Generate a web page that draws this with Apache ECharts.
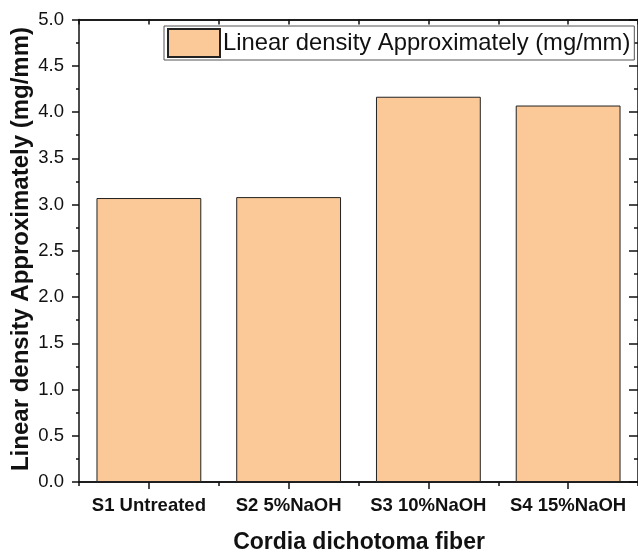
<!DOCTYPE html>
<html>
<head>
<meta charset="utf-8">
<script src="https://cdn.jsdelivr.net/npm/echarts@6/dist/echarts.min.js"></script>
<style>html,body{margin:0;padding:0;background:#fff;}#c{width:638px;height:554px;}</style>
</head>
<body>
<div id="c"></div>
<script>
const categories = ['S1 Untreated', 'S2 5%NaOH', 'S3 10%NaOH', 'S4 15%NaOH'];
const values = [3.07, 3.08, 4.165, 4.07];
const seriesName = 'Linear density Approximately (mg/mm)';
const xTitle = 'Cordia dichotoma fiber';
const yTitle = 'Linear density Approximately (mg/mm)';
const yMin = 0, yMax = 5, yStep = 0.5;

const FONT = '"Liberation Sans", Arial, sans-serif';
const chart = echarts.init(document.getElementById('c'), null, {renderer: 'canvas'});
const lineStyle = {color: '#111', width: 1.5};
function catAxis(extra) {
  return Object.assign({
    type: 'category', data: categories, boundaryGap: true,
    axisLine: {show: true, lineStyle: lineStyle},
    axisLabel: {show: false},
    splitLine: {show: false}
  }, extra);
}
const option = {
  animation: false,
  backgroundColor: '#fff',
  grid: {left: 79, top: 19.5, width: 560, height: 462.5, containLabel: false},
  legend: {
    left: 164, top: 26,
    padding: [2, 4, 2, 3],
    backgroundColor: '#fff',
    borderColor: '#555', borderWidth: 1, borderRadius: 0,
    itemWidth: 52, itemHeight: 28, itemGap: 5,
    icon: 'rect',
    textStyle: {fontFamily: FONT, fontSize: 23.8, color: '#111', padding: [0, 0, 0, -2]},
    data: [seriesName]
  },
  xAxis: [
    catAxis({position: 'bottom',
      axisTick: {show: true, alignWithLabel: true, length: 7, inside: false, lineStyle: lineStyle},
      axisLabel: {show: true, interval: 0, margin: 14, fontFamily: FONT, fontSize: 18.5, fontWeight: 'bold', color: '#111'}}),
    catAxis({position: 'bottom',
      axisTick: {show: true, alignWithLabel: false, length: 4, inside: false, lineStyle: lineStyle}}),
    catAxis({position: 'top',
      axisTick: {show: true, alignWithLabel: true, length: 5, inside: true, lineStyle: lineStyle}}),
    catAxis({position: 'top',
      axisTick: {show: true, alignWithLabel: false, length: 5, inside: true, lineStyle: lineStyle}})
  ],
  yAxis: [
    {type: 'value', position: 'left', min: yMin, max: yMax, interval: yStep,
      axisLine: {show: true, lineStyle: lineStyle},
      axisTick: {show: true, length: 7, inside: false, lineStyle: lineStyle},
      minorTick: {show: true, splitNumber: 2, length: 3, lineStyle: lineStyle},
      splitLine: {show: false},
      axisLabel: {show: true, margin: 15, fontFamily: FONT, fontSize: 18.5, color: '#111',
        formatter: v => v.toFixed(1)}},
    {type: 'value', position: 'right', min: yMin, max: yMax, interval: yStep,
      axisLine: {show: true, lineStyle: lineStyle},
      axisTick: {show: true, length: 9, inside: true, lineStyle: lineStyle},
      minorTick: {show: true, splitNumber: 2, length: 4, lineStyle: lineStyle},
      splitLine: {show: false},
      axisLabel: {show: false}}
  ],
  series: [{
    name: seriesName, type: 'bar', xAxisIndex: 0, yAxisIndex: 0,
    data: values, barWidth: '75%',
    itemStyle: {color: '#FBC898', borderColor: '#222', borderWidth: 1}
  }],
  graphic: [
    {type: 'text', x: 359, y: 531,
      style: {text: xTitle, fontFamily: FONT, fontSize: 23, fontWeight: 'bold', fill: '#111',
        align: 'center', verticalAlign: 'top'}},
    {type: 'text', rotation: Math.PI / 2, x: 9, y: 249,
      style: {text: yTitle, fontFamily: FONT, fontSize: 24, fontWeight: 'bold', fill: '#111',
        align: 'center', verticalAlign: 'top'}}
  ]
};
chart.setOption(option);
</script>
</body>
</html>
